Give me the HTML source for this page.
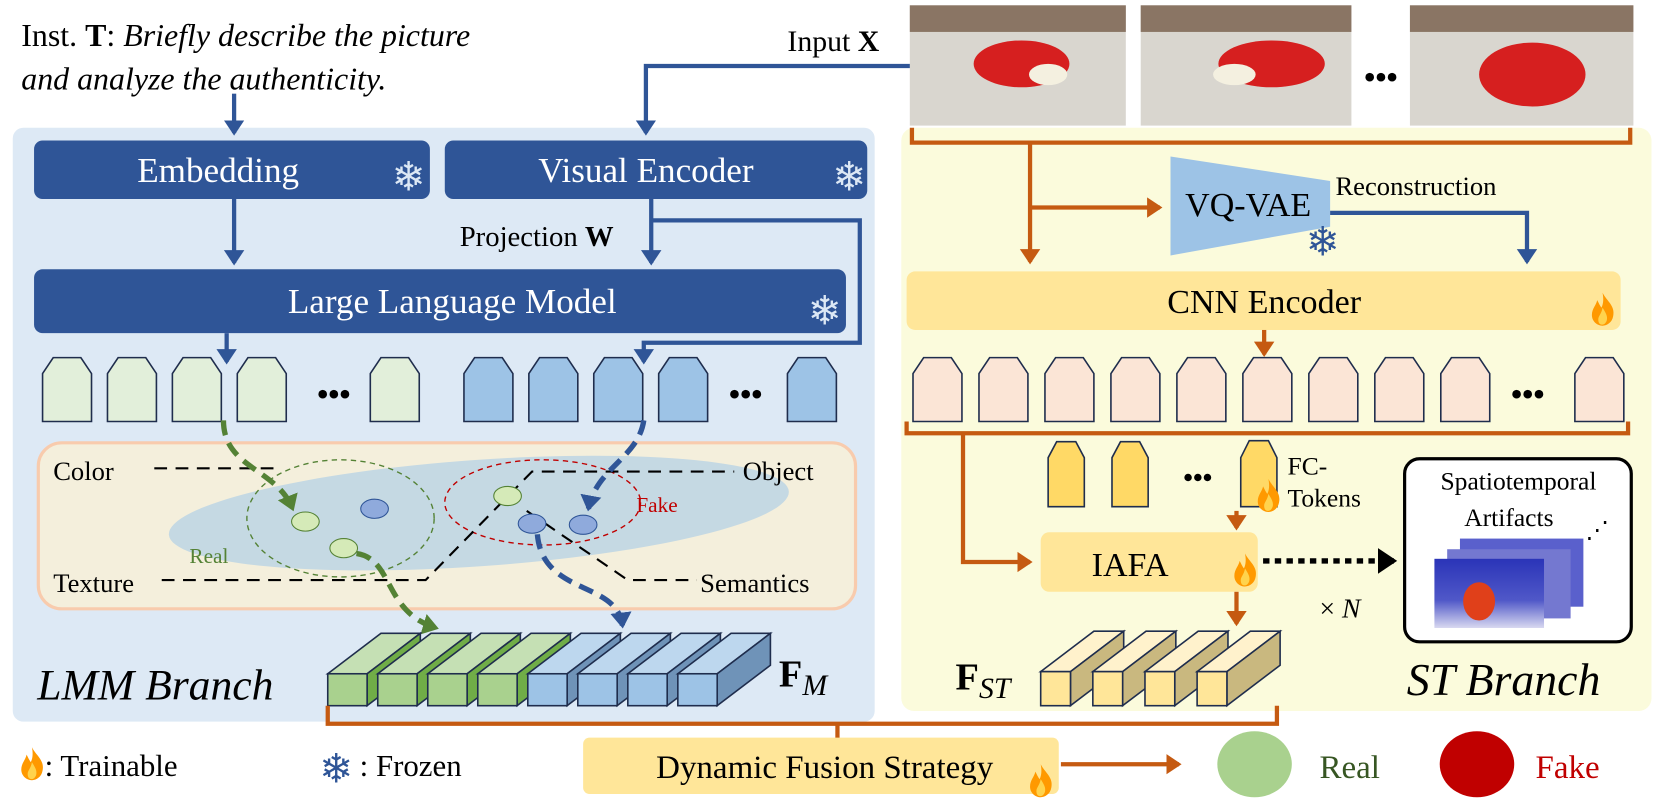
<!DOCTYPE html>
<html><head><meta charset="utf-8"><style>
html,body{margin:0;padding:0;background:#fff}
svg{display:block}
text{font-family:"Liberation Serif",serif}
</style></head><body>
<svg width="1660" height="810" viewBox="0 0 1560 761" preserveAspectRatio="none" xmlns="http://www.w3.org/2000/svg">
<defs>
<marker id="ab" markerWidth="6" markerHeight="6" refX="3" refY="3" orient="auto" markerUnits="strokeWidth"><path d="M0,0.6 L3.6,3 L0,5.4 Z" fill="#2f5597"/></marker>
<marker id="ao" markerWidth="6" markerHeight="6" refX="3" refY="3" orient="auto" markerUnits="strokeWidth"><path d="M0,0.6 L3.6,3 L0,5.4 Z" fill="#c55a11"/></marker>
<marker id="ak" markerWidth="6" markerHeight="6" refX="3" refY="3" orient="auto" markerUnits="strokeWidth"><path d="M0,0.6 L3.6,3 L0,5.4 Z" fill="#000"/></marker>
<marker id="ag" markerWidth="5" markerHeight="5" refX="2.5" refY="2.5" orient="auto" markerUnits="strokeWidth"><path d="M0,0.5 L3,2.5 L0,4.5 Z" fill="#548235"/></marker>
<marker id="abl" markerWidth="5" markerHeight="5" refX="2.5" refY="2.5" orient="auto" markerUnits="strokeWidth"><path d="M0,0.5 L3,2.5 L0,4.5 Z" fill="#2f5597"/></marker>
<g id="flame"><path d="M10,0 C14,8 22,12 20,22 C19,28 14,31 10,31 C5,31 0,27 0,21 C0,15 4,12 5,7 C7,11 8,13 9,14 C11,10 11,5 10,0 Z" fill="#ff9900"/><path d="M10,14 C13,19 15,22 14,26 C13,29 11,30 10,30 C7,30 6,28 6,25 C6,22 9,20 10,14 Z" fill="#ffd34d"/></g>
<g id="tok"><path d="M0,15 L10,0 L36,0 L46,15 L46,60 L0,60 Z" stroke="#1f2d4d" stroke-width="1.5"/></g>
<linearGradient id="gimg" x1="0" y1="0" x2="0" y2="1"><stop offset="0" stop-color="#2a34b8"/><stop offset="0.6" stop-color="#5058c8"/><stop offset="1" stop-color="#d8d8f0"/></linearGradient>
</defs>

<rect x="12" y="120" width="810" height="558" rx="10" fill="#dde9f5"/>
<rect x="847" y="120" width="705" height="548" rx="12" fill="#fbfbdc"/>

<text x="20" y="43" font-size="30">Inst. <tspan font-weight="bold">T</tspan>: <tspan font-style="italic">Briefly describe the picture</tspan></text>
<text x="20" y="84" font-size="30" font-style="italic">and analyze the authenticity.</text>
<line x1="220" y1="88" x2="220" y2="125" stroke="#2f5597" stroke-width="4" marker-end="url(#ab)"/>

<text x="740" y="48" font-size="28">Input <tspan font-weight="bold">X</tspan></text>
<polyline points="857,62 607,62 607,125" fill="none" stroke="#2f5597" stroke-width="4" marker-end="url(#ab)"/>

<rect x="32" y="132" width="372" height="55" rx="8" fill="#2f5597"/>
<text x="205" y="171" font-size="33" fill="#fff" text-anchor="middle">Embedding</text>
<text x="384" y="179" font-size="38" fill="#dce8f5" text-anchor="middle">❄</text>
<rect x="418" y="132" width="397" height="55" rx="8" fill="#2f5597"/>
<text x="607" y="171" font-size="33" fill="#fff" text-anchor="middle">Visual Encoder</text>
<text x="798" y="179" font-size="38" fill="#dce8f5" text-anchor="middle">❄</text>
<rect x="32" y="253" width="763" height="60" rx="8" fill="#2f5597"/>
<text x="425" y="294" font-size="33" fill="#fff" text-anchor="middle">Large Language Model</text>
<text x="775" y="305" font-size="38" fill="#dce8f5" text-anchor="middle">❄</text>

<line x1="220" y1="187" x2="220" y2="247" stroke="#2f5597" stroke-width="4" marker-end="url(#ab)"/>
<line x1="612" y1="187" x2="612" y2="247" stroke="#2f5597" stroke-width="4" marker-end="url(#ab)"/>
<text x="432" y="231" font-size="27">Projection <tspan font-weight="bold">W</tspan></text>
<polyline points="612,207 808,207 808,322 605,322 605,340" fill="none" stroke="#2f5597" stroke-width="4" marker-end="url(#ab)"/>
<line x1="213" y1="313" x2="213" y2="340" stroke="#2f5597" stroke-width="4" marker-end="url(#ab)"/>

<g fill="#e2efda">
<use href="#tok" x="40" y="336"/><use href="#tok" x="101" y="336"/><use href="#tok" x="162" y="336"/><use href="#tok" x="223" y="336"/><use href="#tok" x="348" y="336"/>
</g>
<text x="298" y="380" font-size="30" font-weight="bold">•••</text>
<g fill="#9dc3e6">
<use href="#tok" x="436" y="336"/><use href="#tok" x="497" y="336"/><use href="#tok" x="558" y="336"/><use href="#tok" x="619" y="336"/><use href="#tok" x="740" y="336"/>
</g>
<text x="685" y="380" font-size="30" font-weight="bold">•••</text>

<rect x="36" y="416" width="768" height="156" rx="22" fill="#f4efdc" stroke="#f8cbad" stroke-width="3"/>
<ellipse cx="450" cy="482" rx="292" ry="50" transform="rotate(-4 450 482)" fill="#c5d9e3"/>
<ellipse cx="320" cy="487" rx="88" ry="55" fill="none" stroke="#548235" stroke-width="1.3" stroke-dasharray="5,4"/>
<ellipse cx="510" cy="472" rx="92" ry="40" fill="none" stroke="#c00000" stroke-width="1.3" stroke-dasharray="5,4"/>
<g stroke="#000" stroke-width="2" stroke-dasharray="12,8" fill="none">
<line x1="145" y1="440" x2="265" y2="440"/>
<polyline points="152,545 400,545 500,443 690,443"/>
<polyline points="495,480 590,545 655,545"/>
</g>
<ellipse cx="287" cy="490" rx="13" ry="9" fill="#d5eab8" stroke="#548235"/>
<ellipse cx="323" cy="515" rx="13" ry="9" fill="#d5eab8" stroke="#548235"/>
<ellipse cx="352" cy="478" rx="13" ry="9" fill="#8faadc" stroke="#2f5597"/>
<ellipse cx="477" cy="466" rx="13" ry="9" fill="#d5eab8" stroke="#548235"/>
<ellipse cx="500" cy="492" rx="13" ry="9" fill="#8faadc" stroke="#2f5597"/>
<ellipse cx="548" cy="493" rx="13" ry="9" fill="#8faadc" stroke="#2f5597"/>
<text x="50" y="451" font-size="25">Color</text>
<text x="698" y="451" font-size="25">Object</text>
<text x="50" y="556" font-size="25">Texture</text>
<text x="658" y="556" font-size="25">Semantics</text>
<text x="178" y="529" font-size="20" fill="#548235">Real</text>
<text x="598" y="481" font-size="20" fill="#c00000">Fake</text>
<path d="M210,395 C210,440 260,440 275,478" fill="none" stroke="#548235" stroke-width="5" stroke-dasharray="14,8" marker-end="url(#ag)"/>
<path d="M335,520 C370,525 360,575 410,590" fill="none" stroke="#548235" stroke-width="5" stroke-dasharray="14,8" marker-end="url(#ag)"/>
<path d="M605,395 C600,430 560,440 553,478" fill="none" stroke="#2f5597" stroke-width="5" stroke-dasharray="14,8" marker-end="url(#abl)"/>
<path d="M505,502 C510,560 580,545 585,588" fill="none" stroke="#2f5597" stroke-width="5" stroke-dasharray="14,8" marker-end="url(#abl)"/>

<g stroke="#1f2d4d" stroke-width="1.5">
<g fill="#a9d18e">
<g><path d="M308,633 L358,595 L395,595 L345,633 Z" fill="#c5e0b4"/><path d="M345,633 L395,595 L395,625 L345,663 Z" fill="#70ad47"/><rect x="308" y="633" width="37" height="30"/></g>
<g><path d="M355,633 L405,595 L442,595 L392,633 Z" fill="#c5e0b4"/><path d="M392,633 L442,595 L442,625 L392,663 Z" fill="#70ad47"/><rect x="355" y="633" width="37" height="30"/></g>
<g><path d="M402,633 L452,595 L489,595 L439,633 Z" fill="#c5e0b4"/><path d="M439,633 L489,595 L489,625 L439,663 Z" fill="#70ad47"/><rect x="402" y="633" width="37" height="30"/></g>
<g><path d="M449,633 L499,595 L536,595 L486,633 Z" fill="#c5e0b4"/><path d="M486,633 L536,595 L536,625 L486,663 Z" fill="#70ad47"/><rect x="449" y="633" width="37" height="30"/></g>
</g>
<g fill="#9dc3e6">
<g><path d="M496,633 L546,595 L583,595 L533,633 Z" fill="#bdd7ee"/><path d="M533,633 L583,595 L583,625 L533,663 Z" fill="#6f93b8"/><rect x="496" y="633" width="37" height="30"/></g>
<g><path d="M543,633 L593,595 L630,595 L580,633 Z" fill="#bdd7ee"/><path d="M580,633 L630,595 L630,625 L580,663 Z" fill="#6f93b8"/><rect x="543" y="633" width="37" height="30"/></g>
<g><path d="M590,633 L640,595 L677,595 L627,633 Z" fill="#bdd7ee"/><path d="M627,633 L677,595 L677,625 L627,663 Z" fill="#6f93b8"/><rect x="590" y="633" width="37" height="30"/></g>
<g><path d="M637,633 L687,595 L724,595 L674,633 Z" fill="#bdd7ee"/><path d="M674,633 L724,595 L724,625 L674,663 Z" fill="#6f93b8"/><rect x="637" y="633" width="37" height="30"/></g>
</g>
</g>
<text x="732" y="645" font-size="36" font-weight="bold">F<tspan font-size="28" font-style="italic" font-weight="normal" dy="8">M</tspan></text>
<text x="35" y="657" font-size="41" font-style="italic">LMM Branch</text>

<g>
<rect x="855" y="5" width="203" height="113" fill="#d9d6cf"/>
<rect x="855" y="5" width="203" height="25" fill="#8a7564"/>
<ellipse cx="960" cy="60" rx="45" ry="22" fill="#d61f1f"/><ellipse cx="985" cy="70" rx="18" ry="10" fill="#f4f0e0"/>
<rect x="1072" y="5" width="198" height="113" fill="#d9d6cf"/>
<rect x="1072" y="5" width="198" height="25" fill="#8a7564"/>
<ellipse cx="1195" cy="60" rx="50" ry="22" fill="#d61f1f"/><ellipse cx="1160" cy="70" rx="20" ry="10" fill="#f4f0e0"/>
<rect x="1325" y="5" width="210" height="113" fill="#d9d6cf"/>
<rect x="1325" y="5" width="210" height="25" fill="#8a7564"/>
<ellipse cx="1440" cy="70" rx="50" ry="30" fill="#d61f1f"/>
<text x="1282" y="82" font-size="30" font-weight="bold">•••</text>
</g>
<path d="M857,120 L857,134 L1532,134 L1532,120" fill="none" stroke="#c55a11" stroke-width="4"/>
<polyline points="968,134 968,246" fill="none" stroke="#c55a11" stroke-width="4" marker-end="url(#ao)"/>
<line x1="968" y1="195" x2="1090" y2="195" stroke="#c55a11" stroke-width="4" marker-end="url(#ao)"/>

<path d="M1100,147 L1250,170 L1250,213 L1100,240 Z" fill="#9dc3e6"/>
<text x="1173" y="203" font-size="32" text-anchor="middle">VQ-VAE</text>
<text x="1243" y="240" font-size="38" fill="#2f5597" text-anchor="middle">❄</text>
<text x="1255" y="183" font-size="25">Reconstruction</text>
<polyline points="1250,200 1435,200 1435,246" fill="none" stroke="#2f5597" stroke-width="4" marker-end="url(#ab)"/>

<rect x="852" y="255" width="671" height="55" rx="8" fill="#ffe699"/>
<text x="1188" y="294" font-size="32" text-anchor="middle">CNN Encoder</text>
<use href="#flame" x="1496" y="275"/>
<line x1="1188" y1="310" x2="1188" y2="333" stroke="#c55a11" stroke-width="4" marker-end="url(#ao)"/>

<g fill="#fbe5d6">
<use href="#tok" x="858" y="336"/><use href="#tok" x="920" y="336"/><use href="#tok" x="982" y="336"/><use href="#tok" x="1044" y="336"/><use href="#tok" x="1106" y="336"/><use href="#tok" x="1168" y="336"/><use href="#tok" x="1230" y="336"/><use href="#tok" x="1292" y="336"/><use href="#tok" x="1354" y="336"/><use href="#tok" x="1480" y="336"/>
</g>
<text x="1420" y="380" font-size="30" font-weight="bold">•••</text>
<path d="M852,396 L852,407 L1530,407 L1530,396" fill="none" stroke="#c55a11" stroke-width="4"/>
<polyline points="905,407 905,528 968,528" fill="none" stroke="#c55a11" stroke-width="4" marker-end="url(#ao)"/>

<g fill="#ffd966">
<path d="M985,430 L993,415 L1011,415 L1019,430 L1019,476 L985,476 Z" stroke="#1f2d4d" stroke-width="1.5"/>
<path d="M1045,430 L1053,415 L1071,415 L1079,430 L1079,476 L1045,476 Z" stroke="#1f2d4d" stroke-width="1.5"/>
<path d="M1166,430 L1174,414 L1192,414 L1200,430 L1200,476 L1166,476 Z" stroke="#1f2d4d" stroke-width="1.5"/>
</g>
<text x="1112" y="457" font-size="26" font-weight="bold">•••</text>
<use href="#flame" x="1182" y="450"/>
<text x="1210" y="446" font-size="24">FC-</text>
<text x="1210" y="476" font-size="24">Tokens</text>
<line x1="1162" y1="480" x2="1162" y2="496" stroke="#c55a11" stroke-width="4" marker-end="url(#ao)"/>

<rect x="978" y="500" width="204" height="56" rx="8" fill="#ffe699"/>
<text x="1062" y="541" font-size="32" text-anchor="middle">IAFA</text>
<use href="#flame" x="1160" y="520"/>
<line x1="1187" y1="527" x2="1310" y2="527" stroke="#000" stroke-width="5" stroke-dasharray="6,5" marker-end="url(#ak)"/>
<text x="1240" y="580" font-size="26">× <tspan font-style="italic">N</tspan></text>
<line x1="1162" y1="556" x2="1162" y2="586" stroke="#c55a11" stroke-width="4" marker-end="url(#ao)"/>

<rect x="1320" y="431" width="213" height="172" rx="14" fill="#fff" stroke="#000" stroke-width="3"/>
<text x="1427" y="460" font-size="24" text-anchor="middle">Spatiotemporal</text>
<text x="1418" y="494" font-size="24" text-anchor="middle">Artifacts</text>
<text x="1490" y="505" font-size="22">⋰</text>
<rect x="1372" y="506" width="116" height="64" fill="#5a60cc"/>
<rect x="1360" y="516" width="116" height="65" fill="#7478d0"/>
<rect x="1348" y="525" width="103" height="65" fill="url(#gimg)"/>
<ellipse cx="1390" cy="565" rx="15" ry="18" fill="#e0401a"/>

<g stroke="#1f2d4d" stroke-width="1.5" fill="#ffe699">
<g><path d="M978,631 L1028,593 L1056,593 L1006,631 Z" fill="#fff2cc"/><path d="M1006,631 L1056,593 L1056,625 L1006,663 Z" fill="#c9b87f"/><rect x="978" y="631" width="28" height="32"/></g>
<g><path d="M1027,631 L1077,593 L1105,593 L1055,631 Z" fill="#fff2cc"/><path d="M1055,631 L1105,593 L1105,625 L1055,663 Z" fill="#c9b87f"/><rect x="1027" y="631" width="28" height="32"/></g>
<g><path d="M1076,631 L1126,593 L1154,593 L1104,631 Z" fill="#fff2cc"/><path d="M1104,631 L1154,593 L1154,625 L1104,663 Z" fill="#c9b87f"/><rect x="1076" y="631" width="28" height="32"/></g>
<g><path d="M1125,631 L1175,593 L1203,593 L1153,631 Z" fill="#fff2cc"/><path d="M1153,631 L1203,593 L1203,625 L1153,663 Z" fill="#c9b87f"/><rect x="1125" y="631" width="28" height="32"/></g>
</g>
<text x="898" y="648" font-size="36" font-weight="bold">F<tspan font-size="28" font-style="italic" font-weight="normal" dy="8">ST</tspan></text>
<text x="1322" y="653" font-size="43" font-style="italic">ST Branch</text>

<path d="M308,663 L308,680 L1200,680 L1200,663" fill="none" stroke="#c55a11" stroke-width="4"/>
<line x1="787" y1="680" x2="787" y2="694" stroke="#c55a11" stroke-width="4"/>
<rect x="548" y="693" width="447" height="53" rx="6" fill="#ffe699"/>
<text x="775" y="731" font-size="31" text-anchor="middle">Dynamic Fusion Strategy</text>
<use href="#flame" x="968" y="718"/>
<line x1="997" y1="718" x2="1108" y2="718" stroke="#c55a11" stroke-width="4" marker-end="url(#ao)"/>
<ellipse cx="1179" cy="718" rx="35" ry="31" fill="#a9d18e"/>
<text x="1240" y="731" font-size="31" fill="#375623">Real</text>
<ellipse cx="1388" cy="718" rx="35" ry="31" fill="#c00000"/>
<text x="1443" y="731" font-size="31" fill="#c00000">Fake</text>

<use href="#flame" x="20" y="702"/>
<text x="42" y="729" font-size="29">: Trainable</text>
<text x="300" y="735" font-size="38" fill="#2f5597">❄</text>
<text x="338" y="729" font-size="29">: Frozen</text>
</svg>
</body></html>
